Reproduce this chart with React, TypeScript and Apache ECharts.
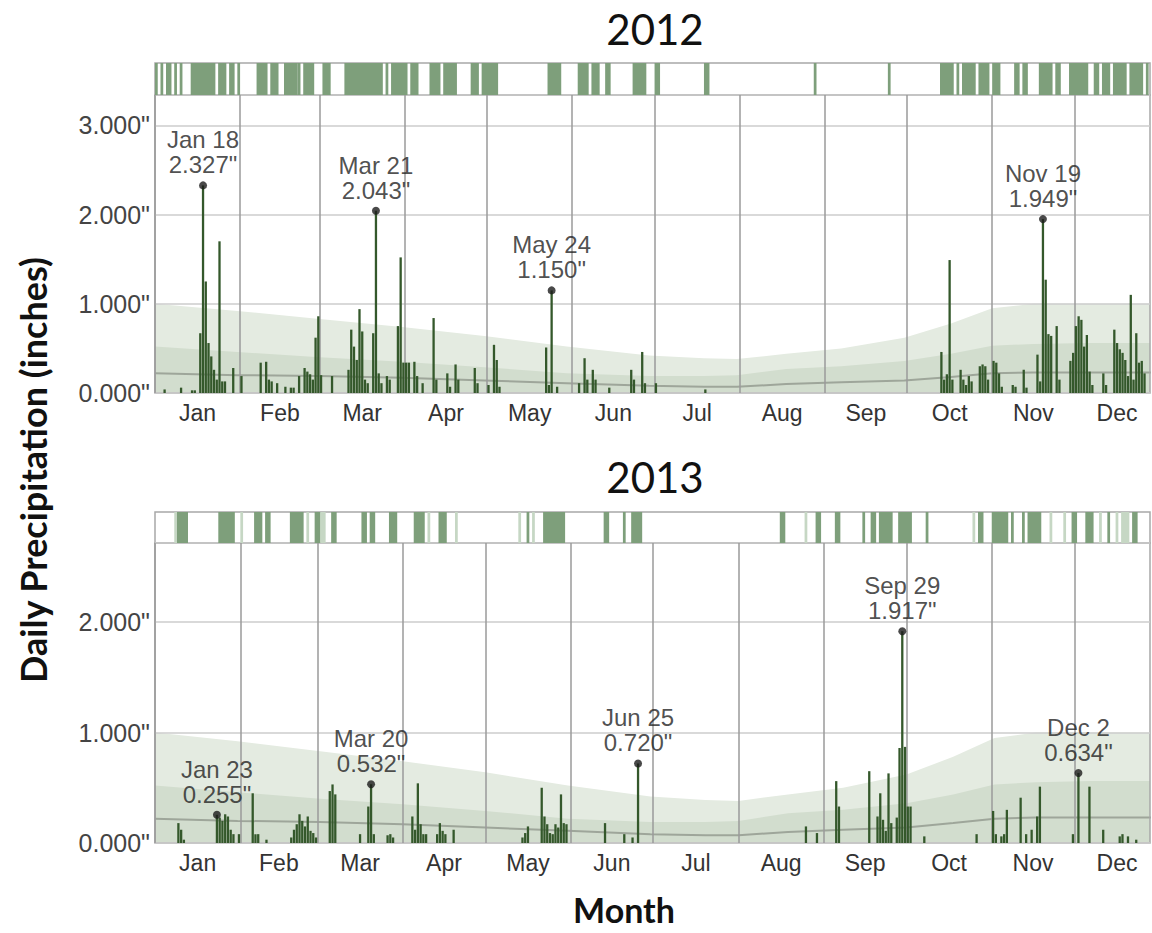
import React, { useEffect, useRef } from 'react';
import * as echarts from 'echarts';

const monthNames = ['Jan', 'Feb', 'Mar', 'Apr', 'May', 'Jun', 'Jul', 'Aug', 'Sep', 'Oct', 'Nov', 'Dec'];
const monthStarts2012 = [0, 31, 60, 91, 121, 152, 182, 213, 244, 274, 305, 335, 366];
const monthStarts2013 = [0, 31, 59, 90, 120, 151, 181, 212, 243, 273, 304, 334, 365];
const visibleDays2012 = 362.5;
const visibleDays2013 = 361.5;
const yMax2012 = 3.34;
const yMax2013 = 2.715;

// daily precipitation, [day of year, inches]
const rain2012: [number, number][] = [
  [4, 0.04], [10, 0.06], [14, 0.03], [15, 0.03], [17, 0.67], [18, 2.327], [19, 1.25], [20, 0.56], [21, 0.41], [22, 0.26], [23, 0.15], [24, 1.70], [25, 0.13], [26, 0.13], [29, 0.28], [32, 0.19],
  [39, 0.34], [41, 0.35], [42, 0.15], [43, 0.13], [45, 0.11], [48, 0.07], [50, 0.06], [51, 0.06], [53, 0.19], [55, 0.28], [56, 0.24], [57, 0.21], [58, 0.15], [59, 0.62], [60, 0.86], [61, 0.2],
  [65, 0.19], [71, 0.26], [72, 0.71], [73, 0.52], [74, 0.37], [75, 0.94], [76, 0.69], [77, 0.15], [78, 0.11], [80, 0.67], [81, 2.043], [82, 0.22], [83, 0.11], [85, 0.19], [86, 0.15], [89, 0.75], [90, 1.52], [91, 0.34], [92, 0.34], [93, 0.34],
  [95, 0.35], [96, 0.19], [98, 0.11], [102, 0.84], [103, 0.15], [107, 0.22], [108, 0.07], [110, 0.32], [111, 0.15], [117, 0.28], [118, 0.11], [122, 0.09], [124, 0.54], [125, 0.37], [126, 0.07],
  [143, 0.51], [144, 0.09], [145, 1.15], [147, 0.07],
  [155, 0.11], [157, 0.39], [158, 0.15], [160, 0.26], [161, 0.15], [166, 0.06], [174, 0.26], [175, 0.15], [178, 0.46], [179, 0.11],
  [183, 0.11], [201, 0.04],
  [287, 0.46], [288, 0.15], [289, 0.21], [290, 1.49], [291, 0.15], [294, 0.26], [295, 0.15], [296, 0.09], [297, 0.19], [298, 0.13],
  [301, 0.30], [302, 0.32], [303, 0.30], [304, 0.15], [306, 0.36], [307, 0.34], [308, 0.22], [309, 0.07], [313, 0.09], [314, 0.07], [317, 0.26], [318, 0.06],
  [322, 0.43], [323, 0.13], [324, 1.949], [325, 1.27], [326, 0.66], [327, 0.64], [329, 0.75], [330, 0.15],
  [334, 0.36], [335, 0.45], [336, 0.75], [337, 0.86], [338, 0.82], [339, 0.52], [340, 0.65], [341, 0.24], [342, 0.09],
  [346, 0.22], [347, 0.09], [350, 0.71], [351, 0.56], [352, 0.49], [353, 0.45], [354, 0.37], [355, 0.19], [356, 1.10], [357, 0.15], [358, 0.67], [359, 0.34], [360, 0.36], [361, 0.22],
];

const rain2013: [number, number][] = [
  [9, 0.18], [10, 0.12], [11, 0.03],
  [23, 0.255], [24, 0.23], [25, 0.20], [26, 0.26], [27, 0.24], [28, 0.12], [29, 0.08], [31, 0.08],
  [36, 0.45], [37, 0.08], [38, 0.08], [41, 0.03],
  [50, 0.05], [51, 0.12], [52, 0.17], [53, 0.26], [54, 0.2], [55, 0.15], [56, 0.24], [57, 0.11], [58, 0.09], [59, 0.05],
  [64, 0.47], [65, 0.53], [66, 0.44],
  [75, 0.08], [78, 0.33], [79, 0.532], [80, 0.08], [85, 0.07], [86, 0.08], [87, 0.05],
  [94, 0.24], [95, 0.12], [96, 0.54], [97, 0.17], [98, 0.08], [99, 0.08],
  [103, 0.08], [104, 0.18], [105, 0.11], [106, 0.08], [109, 0.12],
  [134, 0.05], [135, 0.09], [136, 0.15], [141, 0.50], [142, 0.24], [143, 0.17], [144, 0.09], [145, 0.08], [146, 0.17], [147, 0.14], [148, 0.44], [149, 0.18], [150, 0.17],
  [164, 0.18], [171, 0.08], [174, 0.05], [176, 0.72],
  [237, 0.15], [241, 0.09], [248, 0.56], [249, 0.33], [260, 0.65],
  [263, 0.24], [264, 0.45], [265, 0.21], [266, 0.11], [267, 0.63], [268, 0.18], [270, 0.23], [271, 0.86], [272, 1.917], [273, 0.87], [274, 0.33], [275, 0.33], [280, 0.06],
  [299, 0.08], [305, 0.29], [306, 0.08], [308, 0.06], [309, 0.08], [310, 0.30], [315, 0.41], [317, 0.08], [319, 0.12], [321, 0.24], [322, 0.51],
  [334, 0.08], [336, 0.634], [340, 0.51], [345, 0.12], [351, 0.06], [352, 0.08], [354, 0.06], [357, 0.03],
];

// annotated maxima
const peakDays2012 = [18, 81, 145, 324];
const peakLabels2012 = ['Jan 18', 'Mar 21', 'May 24', 'Nov 19'];
const peakValues2012 = [2.327, 2.043, 1.150, 1.949];
const peakDays2013 = [23, 79, 176, 272, 336];
const peakLabels2013 = ['Jan 23', 'Mar 20', 'Jun 25', 'Sep 29', 'Dec 2'];
const peakValues2013 = [0.255, 0.532, 0.720, 1.917, 0.634];

// days with precipitation (top strip), [first day, last day]
const wetDays2012: [number, number][] = [
  [1, 1], [3, 3], [5, 6], [8, 8], [10, 10], [14, 22], [24, 26], [28, 29], [31, 31], [38, 41], [43, 45], [48, 52], [53, 53], [55, 58], [62, 64],
  [70, 83], [85, 85], [87, 92], [94, 96], [101, 104], [106, 110], [116, 118], [120, 125], [144, 148], [155, 158], [160, 162], [165, 166],
  [175, 179], [183, 184], [201, 202], [241, 241], [268, 268], [287, 291], [293, 293], [295, 299], [301, 304], [306, 308], [314, 315],
  [317, 318], [323, 327], [329, 330], [334, 340], [343, 344], [346, 348], [350, 354], [356, 360], [362, 362],
];
const wetDays2013: [number, number][] = [
  [9, 12], [24, 29], [37, 39], [41, 42], [50, 54], [59, 60], [65, 66], [76, 77], [79, 80], [86, 88], [95, 98], [104, 106], [136, 136],
  [142, 149], [164, 165], [171, 171], [174, 177], [228, 229], [241, 242], [248, 249], [258, 258], [261, 262], [264, 268], [271, 275],
  [281, 281], [300, 301], [305, 310], [312, 312], [316, 316], [318, 322], [334, 335], [339, 341], [347, 347], [356, 357],
];
const traceDays2013: [number, number][] = [
  [8, 8], [32, 32], [56, 56], [61, 62], [100, 100], [110, 110], [133, 133], [138, 138], [237, 237], [298, 298], [326, 326], [331, 331],
  [344, 344], [350, 350], [352, 354],
];

// climatology bands
const normalDays = [0, 30, 60, 90, 120, 150, 180, 200, 212, 230, 250, 273, 290, 305, 320, 340, 366];
const normalUpper = [1.00, 0.92, 0.83, 0.74, 0.64, 0.52, 0.42, 0.39, 0.38, 0.44, 0.50, 0.62, 0.78, 0.95, 1.00, 1.00, 1.00];
const normalMiddle = [0.52, 0.46, 0.40, 0.35, 0.29, 0.22, 0.19, 0.19, 0.20, 0.27, 0.30, 0.36, 0.44, 0.53, 0.55, 0.56, 0.56];
const normalMedian = [0.22, 0.20, 0.19, 0.17, 0.14, 0.11, 0.08, 0.07, 0.07, 0.10, 0.12, 0.14, 0.18, 0.22, 0.23, 0.23, 0.23];

const LABEL_FONT = 'Liberation Sans';
const TITLE_FONT = 'Lato';

export default function App() {
  const ref = useRef<HTMLDivElement>(null);

  useEffect(() => {
    if (!ref.current) return;
    const chart = echarts.init(ref.current, null, { renderer: 'svg' });

    const mids = (starts: number[]) => starts.slice(0, 12).map((s, i) => (s + starts[i + 1]) / 2);
    const mids2012 = mids(monthStarts2012);
    const mids2013 = mids(monthStarts2013);
    const monthFmt = (m: number[]) => (v: number) => {
      const i = m.findIndex((x) => Math.abs(x - v) < 0.01);
      return i >= 0 ? monthNames[i] : '';
    };

    const grids = [
      { left: 155, top: 63, width: 995, height: 32 },
      { left: 155, top: 95, width: 995, height: 298 },
      { left: 155, top: 512, width: 995, height: 31 },
      { left: 155, top: 543, width: 995, height: 300 },
    ].map((g) => ({ ...g, show: true, borderColor: '#a8a8a8', borderWidth: 1.5, backgroundColor: 'transparent', containLabel: false }));

    const stripX = (idx: number, max: number) => ({
      type: 'value', gridIndex: idx, min: 0, max, show: false,
    });
    const mainX = (idx: number, max: number, starts: number[], m: number[]) => ({
      type: 'value', gridIndex: idx, min: 0, max,
      axisLine: { show: false },
      axisTick: { show: false, customValues: starts },
      splitLine: { show: true, lineStyle: { color: '#9a9a9a', width: 1.5 } },
      axisLabel: {
        customValues: m, formatter: monthFmt(m), fontSize: 23, color: '#333',
        fontFamily: LABEL_FONT, margin: 8,
      },
    });
    const mainY = (idx: number, max: number) => ({
      type: 'value', gridIndex: idx, min: 0, max, interval: 1,
      axisLine: { show: false }, axisTick: { show: false },
      splitLine: { show: true, lineStyle: { color: '#cdcdcd', width: 1.5 } },
      axisLabel: {
        formatter: (v: number) => v.toFixed(3) + '"', fontSize: 25, color: '#444',
        fontFamily: LABEL_FONT, margin: 5, showMaxLabel: false,
      },
    });

    const stripSeries = (xi: number, data: [number, number][], color: string) => ({
      type: 'custom', xAxisIndex: xi, yAxisIndex: xi, data, clip: true,
      renderItem: (params: any, api: any) => {
        const p0 = api.coord([api.value(0) - 1, 1]);
        const p1 = api.coord([api.value(1), 0]);
        return {
          type: 'rect',
          shape: { x: p0[0], y: p0[1], width: p1[0] - p0[0], height: p1[1] - p0[1] },
          style: { fill: color },
        };
      },
    });

    const bandSeries = (xi: number) => [
      {
        type: 'line', xAxisIndex: xi, yAxisIndex: xi, z: -2, symbol: 'none', silent: true,
        data: normalDays.map((d, i) => [d, normalUpper[i]]),
        lineStyle: { width: 0 }, areaStyle: { color: '#e4ebe1', opacity: 1 },
      },
      {
        type: 'line', xAxisIndex: xi, yAxisIndex: xi, z: -1, symbol: 'none', silent: true,
        data: normalDays.map((d, i) => [d, normalMiddle[i]]),
        lineStyle: { width: 0 }, areaStyle: { color: '#d2ddce', opacity: 1 },
      },
      {
        type: 'line', xAxisIndex: xi, yAxisIndex: xi, z: -1, symbol: 'none', silent: true,
        data: normalDays.map((d, i) => [d, normalMedian[i]]),
        lineStyle: { width: 2, color: '#9ea69a' },
      },
    ];

    const barSeries = (xi: number, data: [number, number][]) => ({
      type: 'bar', xAxisIndex: xi, yAxisIndex: xi, z: 3, barWidth: 2.3,
      data: data.map(([d, v]) => [d - 0.5, v]),
      itemStyle: { color: '#34582b' },
    });

    const peakSeries = (xi: number, days: number[], labels: string[], values: number[]) => ({
      type: 'scatter', xAxisIndex: xi, yAxisIndex: xi, z: 5, symbolSize: 8,
      itemStyle: { color: '#1c1c1c' },
      data: days.map((d, i) => ({ value: [d - 0.5, values[i]], name: labels[i] })),
      label: {
        show: true, position: 'top', distance: 4,
        formatter: (p: any) => `${p.name}\n${p.value[1].toFixed(3)}"`,
        fontSize: 24, lineHeight: 25, color: '#222', fontFamily: LABEL_FONT, align: 'center',
      },
    });

    const textEl = (text: string, x: number, y: number, font: string, extra: any = {}) => ({
      type: 'text', x, y, ...extra,
      style: {
        text, font, fill: '#111', textAlign: 'center', textVerticalAlign: 'middle',
        align: 'center', verticalAlign: 'middle',
      },
    });

    chart.setOption({
      animation: false,
      grid: grids,
      xAxis: [
        stripX(0, visibleDays2012),
        mainX(1, visibleDays2012, monthStarts2012, mids2012),
        stripX(2, visibleDays2013),
        mainX(3, visibleDays2013, monthStarts2013, mids2013),
      ],
      yAxis: [
        { type: 'value', gridIndex: 0, min: 0, max: 1, show: false },
        mainY(1, yMax2012),
        { type: 'value', gridIndex: 2, min: 0, max: 1, show: false },
        mainY(3, yMax2013),
      ],
      series: [
        stripSeries(0, wetDays2012, '#7e9f7b'),
        stripSeries(2, traceDays2013, '#c6d7c4'),
        stripSeries(2, wetDays2013, '#7e9f7b'),
        ...bandSeries(1),
        ...bandSeries(3),
        barSeries(1, rain2012),
        barSeries(3, rain2013),
        peakSeries(1, peakDays2012, peakLabels2012, peakValues2012),
        peakSeries(3, peakDays2013, peakLabels2013, peakValues2013),
      ],
      graphic: [
        textEl('2012', 655, 29, `42px ${TITLE_FONT}`),
        textEl('2013', 655, 477, `42px ${TITLE_FONT}`),
        textEl('Month', 624, 909, `bold 34px ${TITLE_FONT}`),
        textEl('Daily Precipitation (inches)', 33, 470, `bold 36px ${TITLE_FONT}`, { rotation: Math.PI / 2 }),
      ],
    });

    return () => chart.dispose();
  }, []);

  return <div ref={ref} style={{ position: 'absolute', left: 0, top: 0, width: 1152, height: 933 }} />;
}
